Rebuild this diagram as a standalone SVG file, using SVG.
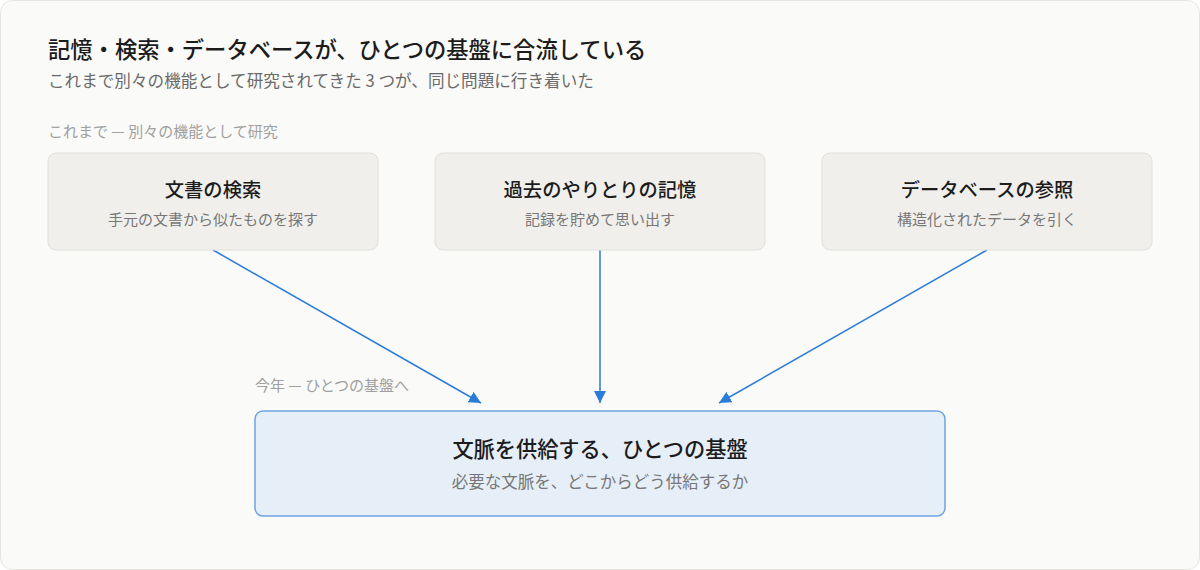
<svg xmlns="http://www.w3.org/2000/svg" width="1200" height="570" viewBox="0 0 1200 570">
<defs>
<style>
text{font-family:"Noto Sans CJK JP","Noto Sans",sans-serif}
.title{font-size:22.3px;font-weight:500;fill:#1c1c1c}
.sub{font-size:16.6px;fill:#6a6a6a}
.sec{font-size:15px;fill:#a0a0a0}
.box{fill:#f0efec;stroke:#e2e0dc;stroke-width:1}
.bt{font-size:19.3px;font-weight:500;fill:#1c1c1c;text-anchor:middle}
.bs{font-size:15px;fill:#777;text-anchor:middle}
.main{fill:#e6eef8;stroke:#6fa2e2;stroke-width:1.5}
.mt{font-size:21.2px;font-weight:500;fill:#1c1c1c;text-anchor:middle}
.ms{font-size:16.5px;fill:#777;text-anchor:middle}
.conn{stroke:#2b7bd9;stroke-width:1.5;fill:none;marker-end:url(#ah)}
</style>
<marker id="ah" viewBox="0 0 10 10" refX="10" refY="5" markerWidth="12" markerHeight="12" markerUnits="userSpaceOnUse" orient="auto">
<path d="M0,0 L10,5 L0,10 z" fill="#2b7bd9"/>
</marker>
</defs>
<rect x="0.5" y="0.5" width="1199" height="569" rx="12" fill="#fafaf8" stroke="#e6e5e0"/>
<text class="title" x="48" y="58">記憶・検索・データベースが、ひとつの基盤に合流している</text>
<text class="sub" x="48" y="87">これまで別々の機能として研究されてきた 3 つが、同じ問題に行き着いた</text>
<text class="sec" x="48" y="137">これまで — 別々の機能として研究</text>
<text class="sec" x="255" y="391">今年 — ひとつの基盤へ</text>
<g id="connectors">
<line class="conn" x1="213" y1="250" x2="481" y2="403"/>
<line class="conn" x1="600" y1="250" x2="600" y2="403"/>
<line class="conn" x1="987" y1="250" x2="719" y2="403"/>
</g>
<g id="node-docs">
<rect class="box" x="48" y="153" width="330" height="97" rx="8"/>
<text class="bt" x="213" y="197">文書の検索</text>
<text class="bs" x="213" y="225">手元の文書から似たものを探す</text>
</g>
<g id="node-memory">
<rect class="box" x="435" y="153" width="330" height="97" rx="8"/>
<text class="bt" x="600" y="197">過去のやりとりの記憶</text>
<text class="bs" x="600" y="225">記録を貯めて思い出す</text>
</g>
<g id="node-db">
<rect class="box" x="822" y="153" width="330" height="97" rx="8"/>
<text class="bt" x="987" y="197">データベースの参照</text>
<text class="bs" x="987" y="225">構造化されたデータを引く</text>
</g>
<g id="node-base">
<rect class="main" x="255" y="411" width="690" height="105" rx="8"/>
<text class="mt" x="600" y="457">文脈を供給する、ひとつの基盤</text>
<text class="ms" x="600" y="488">必要な文脈を、どこからどう供給するか</text>
</g>
</svg>
